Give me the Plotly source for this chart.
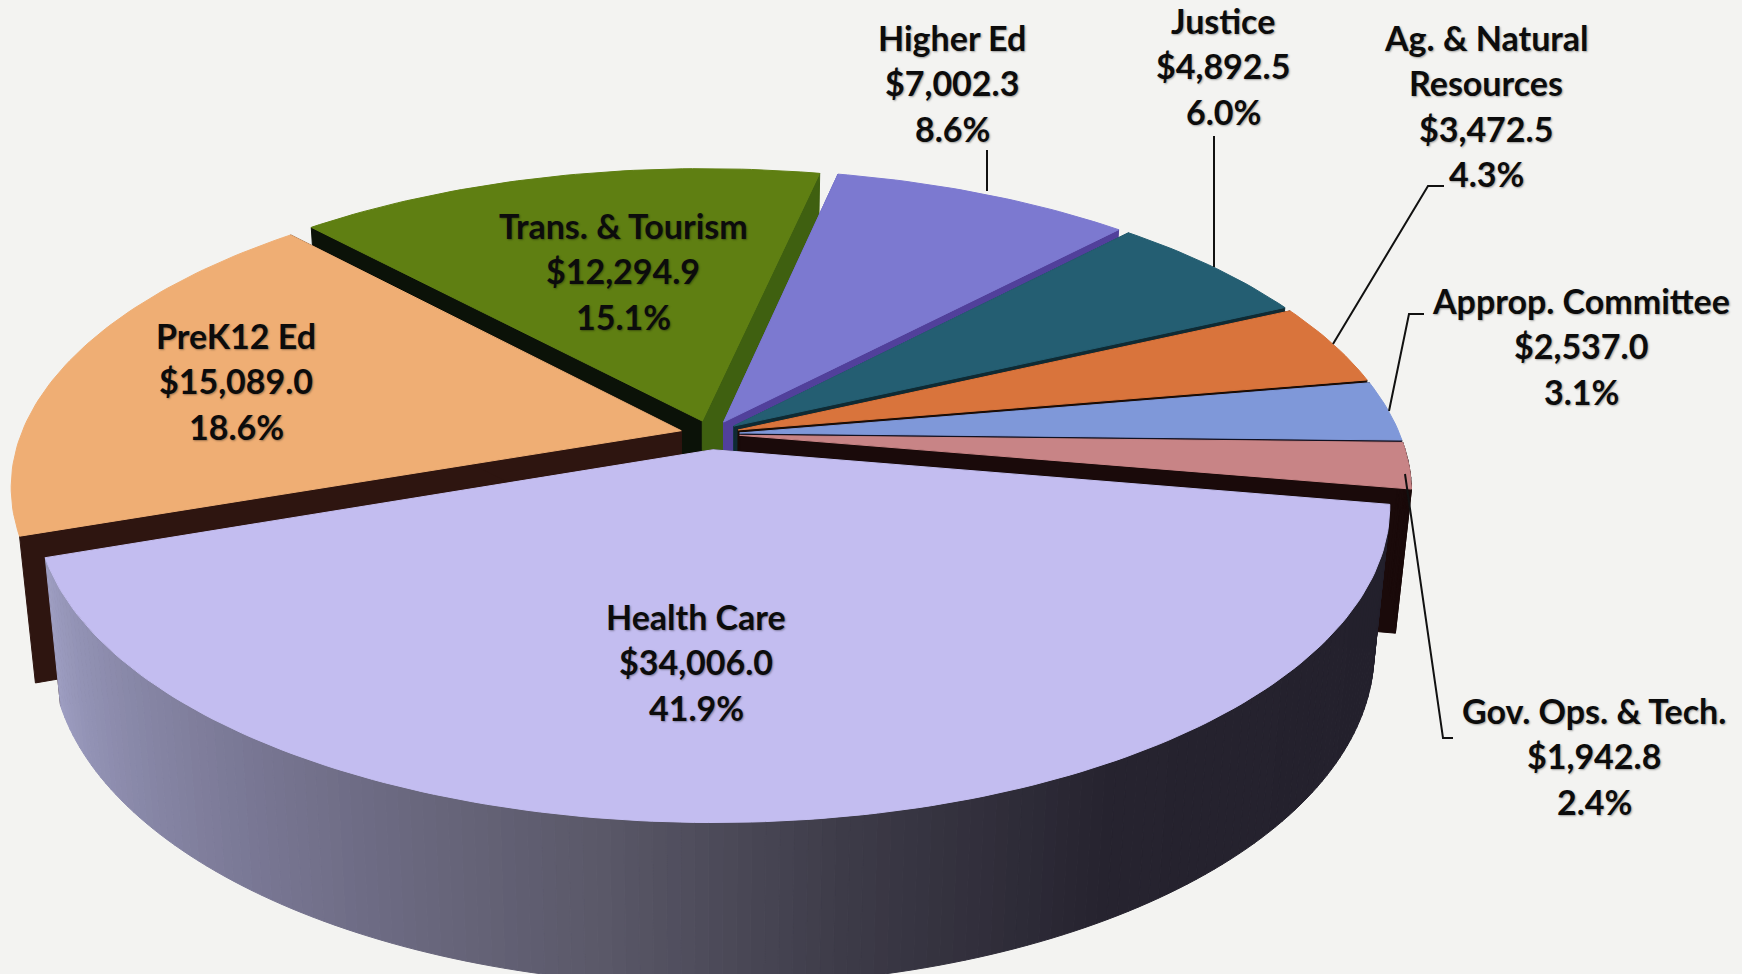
import math

import plotly.graph_objects as go

# data (US$ millions)
categories = ["Higher Ed", "Justice", "Ag. & Natural Resources", "Approp. Committee",
              "Gov. Ops. & Tech.", "Health Care", "PreK12 Ed", "Trans. & Tourism"]
values = [7002.3, 4892.5, 3472.5, 2537.0, 1942.8, 34006.0, 15089.0, 12294.9]
pct_labels = ["8.6%", "6.0%", "4.3%", "3.1%", "2.4%", "41.9%", "18.6%", "15.1%"]

# name split over lines, where the label wraps
name_lines = {"Ag. & Natural Resources": ["Ag. & Natural", "Resources"]}

# styling
top_colors = ["#7c79d0", "#245e72", "#d9743c", "#7f98d9", "#c88486", "#c3bdf0", "#efae74", "#5f7f12"]
start_wall = ["#5656b4", "#1c4a5a", "#1a0c05", "#111122", "#1a0a0a", "#2a2833", "#2e1510", "#0b1208"]
end_wall = ["#51409b", "#0f2a33", "#1a0c05", "#111122", "#1a0a0a", "#2e1510", "#2e1510", "#3f6010"]
side_stops = [(100, "#221f2b"), (150, "#26232f"), (170, "#3c3a47"), (188, "#5a5868"),
              (214, "#767490"), (240, "#9292b4"), (252, "#a0a0c4")]
label_xy = {"Higher Ed": (952, 37), "Justice": (1223, 20), "Ag. & Natural Resources": (1486, 37),
            "Approp. Committee": (1581, 300), "Gov. Ops. & Tech.": (1594, 710),
            "Health Care": (696, 616), "PreK12 Ed": (236, 335), "Trans. & Tourism": (623, 225)}
leaders = [[(987, 150), (987, 191)],
           [(1214, 136), (1214, 267)],
           [(1444, 186), (1428, 186), (1333, 344)],
           [(1424, 314), (1409, 314), (1389, 411)],
           [(1405, 474), (1443, 738), (1453, 738)]]

WIDTH, HEIGHT = 1742, 974
BACKGROUND = "#f3f3f1"
CX, CY = 710, 434       # pie centre on the page
RX, RY = 660, 301       # projected radii
TILT = 0.176            # perspective strength
EXPLODE = 0.045
EXPLODE_HEALTH = 0.052  # this slice sits a touch further out
DEPTH = 141             # extrusion height at the sides
DEPTH_FRONT = 0.12      # extra height towards the viewer
SHRINK = 0.977          # bottom face is a little narrower
FIRST_ANGLE = 12        # clockwise from top, where the first slice starts
LINE_GAP = 45.6


def project(u, v):
    s = 1 / (1 + TILT * v)
    return CX + RX * u * s, CY - RY * v * s


def lower(pt):
    front = max(0, (pt[1] - CY) / RY)
    return CX + (pt[0] - CX) * SHRINK, pt[1] + DEPTH * (1 + DEPTH_FRONT * front)


def rim(angle, tip):
    a = math.radians(angle)
    return project(tip[0] + math.sin(a), tip[1] + math.cos(a))


def hex_mix(c1, c2, t):
    a = [int(c1[i:i + 2], 16) for i in (1, 3, 5)]
    b = [int(c2[i:i + 2], 16) for i in (1, 3, 5)]
    return "#%02x%02x%02x" % tuple(round(p + (q - p) * t) for p, q in zip(a, b))


def side_color(angle):
    for (a0, c0), (a1, c1) in zip(side_stops, side_stops[1:]):
        if angle <= a1:
            return hex_mix(c0, c1, max(0, (angle - a0) / (a1 - a0)))
    return side_stops[-1][1]


def add_poly(fig, pts, color, name=None):
    fig.add_trace(go.Scatter(
        x=[p[0] for p in pts] + [pts[0][0]],
        y=[p[1] for p in pts] + [pts[0][1]],
        mode="lines",
        fill="toself",
        fillcolor=color,
        line=dict(color=color, width=1),
        name=name or "",
        hoverinfo="skip" if name is None else "name",
        showlegend=False,
    ))


total = sum(values)
spans = []
angle = FIRST_ANGLE
for v in values:
    spans.append((angle, angle + v / total * 360))
    angle += v / total * 360

fig = go.Figure()

# paint back to front
order = ["Trans. & Tourism", "Higher Ed", "Justice", "Ag. & Natural Resources",
         "Approp. Committee", "Gov. Ops. & Tech.", "PreK12 Ed", "Health Care"]
for name in order:
    i = categories.index(name)
    a0, a1 = spans[i]
    mid = math.radians((a0 + a1) / 2)
    out = EXPLODE_HEALTH if name == "Health Care" else EXPLODE
    tip_uv = (out * math.sin(mid), out * math.cos(mid))
    tip = project(*tip_uv)
    steps = max(4, int(a1 - a0))
    angles = [a0 + (a1 - a0) * j / steps for j in range(steps + 1)]
    arc = [rim(a, tip_uv) for a in angles]

    # the two cut faces
    add_poly(fig, [tip, arc[0], lower(arc[0]), lower(tip)], start_wall[i])
    add_poly(fig, [tip, arc[-1], lower(arc[-1]), lower(tip)], end_wall[i])

    # outer wall in narrow strips so it can shade around the pie
    if name in ("Health Care", "Gov. Ops. & Tech."):
        for j in range(steps):
            strip = [arc[j], arc[j + 1], lower(arc[j + 1]), lower(arc[j])]
            if name == "Health Care":
                col = side_color((angles[j] + angles[j + 1]) / 2)
            else:
                col = "#1a0a0a"
            add_poly(fig, strip, col)

    add_poly(fig, [tip] + arc, top_colors[i], name)

for line in leaders:
    fig.add_trace(go.Scatter(
        x=[p[0] for p in line], y=[p[1] for p in line], mode="lines",
        line=dict(color="#111111", width=2), hoverinfo="skip", showlegend=False,
    ))

annotations = []
for name, v, pct in zip(categories, values, pct_labels):
    x0, y0 = label_xy[name]
    lines = name_lines.get(name, [name]) + [f"${v:,.1f}", pct]
    for j, text in enumerate(lines):
        annotations.append(dict(
            x=x0, y=y0 + j * LINE_GAP, xref="x", yref="y", text=text, showarrow=False,
            xanchor="center", yanchor="middle",
            font=dict(family="Lato", size=34, color="#0c0c0c", weight="bold",
                      shadow="1px 1px 2px rgba(0,0,0,0.35)"),
        ))

fig.update_layout(
    width=WIDTH,
    height=HEIGHT,
    margin=dict(l=0, r=0, t=0, b=0),
    paper_bgcolor=BACKGROUND,
    plot_bgcolor=BACKGROUND,
    xaxis=dict(range=[0, WIDTH], visible=False, fixedrange=True),
    yaxis=dict(range=[HEIGHT, 0], visible=False, fixedrange=True),
    annotations=annotations,
)

fig.write_html("out.html", config={"displayModeBar": False},
               post_script="document.body.style.margin = '0';")
